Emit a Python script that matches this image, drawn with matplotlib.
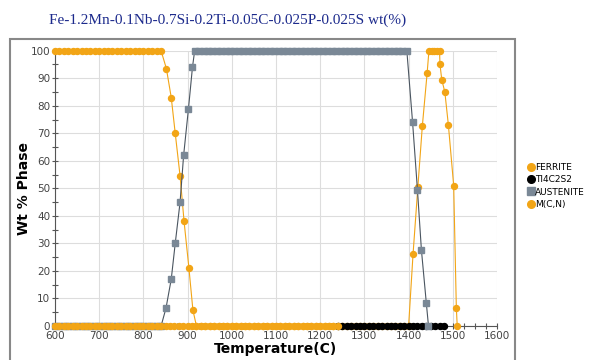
import numpy as np
import matplotlib.pyplot as plt
from matplotlib.patches import Rectangle
from matplotlib.ticker import MultipleLocator

# --- data ---
title = "Fe-1.2Mn-0.1Nb-0.7Si-0.2Ti-0.05C-0.025P-0.025S wt(%)"

ferrite_t = list(range(600, 850, 10)) + [852, 863, 872, 883, 892, 903, 912] \
    + list(range(920, 1410, 10)) + [1410, 1421, 1431, 1442, 1446, 1452, 1458, 1464, 1470,
                                    1471, 1475, 1482, 1490, 1502, 1508, 1510]
ferrite_v = [100] * 25 + [93.5, 83, 70, 54.5, 38, 21, 5.8] \
    + [0] * 49 + [26, 50.6, 72.5, 92, 100, 100, 100, 100, 100,
                  95, 89.5, 85, 73, 51, 6.7, 0]

ti4c2s2_t = list(range(1240, 1481, 10))
ti4c2s2_v = [0] * len(ti4c2s2_t)

austenite_t = list(range(600, 850, 10)) + [851, 863, 872, 883, 891, 902, 911] \
    + list(range(916, 1401, 10)) + [1409, 1420, 1429, 1440, 1445]
austenite_v = [0] * 25 + [6.4, 17, 30, 45, 62, 79, 94] \
    + [100] * 49 + [74, 49.5, 27.6, 8.5, 0]

mcn_t = list(range(600, 1241, 10))
mcn_v = [0] * len(mcn_t)

orange = "#F2A516"
gray = "#7A8896"

fig = plt.figure(figsize=(5.95, 3.6), dpi=100)
ax = fig.add_axes([55 / 595, 34 / 360, (497 - 55) / 595, (326 - 50.7) / 360])

ax.plot(ferrite_t, ferrite_v, color=orange, lw=0.8, marker="o", ms=4.3,
        mec=orange, clip_on=False, label="FERRITE", zorder=3)
ax.plot(ti4c2s2_t, ti4c2s2_v, color="black", lw=0.8, marker="o", ms=4.3,
        clip_on=False, label="TI4C2S2", zorder=4)
ax.plot(austenite_t, austenite_v, color="#4a5560", lw=0.8, marker="s", ms=4.3,
        mfc=gray, mec=gray, clip_on=False, label="AUSTENITE", zorder=5)
ax.plot(mcn_t, mcn_v, color=orange, lw=0.8, marker="o", ms=4.3,
        mec=orange, clip_on=False, label="M(C,N)", zorder=6)

ax.set_xlim(600, 1600)
ax.set_ylim(0, 100)
ax.xaxis.set_major_locator(MultipleLocator(100))
ax.xaxis.set_minor_locator(MultipleLocator(25))
ax.yaxis.set_major_locator(MultipleLocator(10))
ax.yaxis.set_minor_locator(MultipleLocator(5))
ax.grid(True, which="major", color="#dddddd", lw=0.8)
ax.set_axisbelow(True)
for s in ["top", "right"]:
    ax.spines[s].set_visible(False)
for s in ["left", "bottom"]:
    ax.spines[s].set_color("#555555")
ax.tick_params(which="major", direction="inout", length=5, width=0.8,
               colors="#555555", labelsize=7.5, labelcolor="#444444", pad=1)
ax.tick_params(which="minor", direction="inout", length=4, width=0.8, colors="#555555")

ax.set_xlabel("Temperature(C)", fontsize=10, fontweight="bold", labelpad=1)
ax.set_ylabel("Wt % Phase", fontsize=10, fontweight="bold", labelpad=0)

fig.text(228 / 595, 1 - 20 / 360, title, ha="center", va="center",
         family="Liberation Serif", fontsize=11, color="#1c2a8c")

# gray frame around plot area
fig.patches.append(Rectangle((10 / 595, -0.05), (515 - 10) / 595, 0.05 + (360 - 39) / 360,
                             transform=fig.transFigure, fill=False,
                             edgecolor="#888888", lw=1.5))

handles = [
    plt.Line2D([], [], ls="", marker="o", ms=5.5, color=orange),
    plt.Line2D([], [], ls="", marker="o", ms=5.5, color="black"),
    plt.Line2D([], [], ls="", marker="s", ms=5.5, color=gray),
    plt.Line2D([], [], ls="", marker="o", ms=5.5, color=orange),
]
fig.legend(handles, ["FERRITE", "TI4C2S2", "AUSTENITE", "M(C,N)"],
           loc="center left", bbox_to_anchor=(524 / 595, 1 - 186 / 360),
           frameon=False, fontsize=6.5, handlelength=0.6, handletextpad=0.15,
           labelspacing=0.35, borderpad=0)

fig.savefig("out.png", dpi=100)
